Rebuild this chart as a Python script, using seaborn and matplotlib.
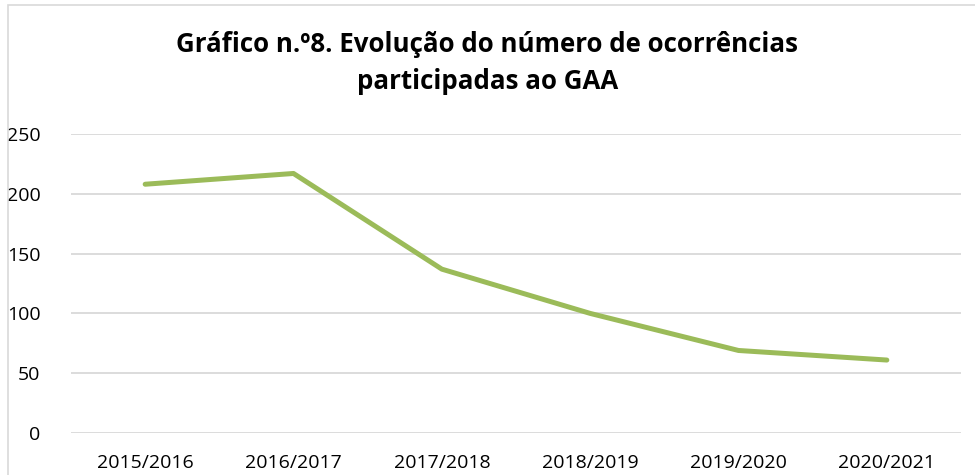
"""Evolução do número de ocorrências participadas ao GAA."""

import matplotlib.pyplot as plt
import pandas as pd
import seaborn as sns
from matplotlib.patches import Rectangle

anos = ["2015/2016", "2016/2017", "2017/2018", "2018/2019", "2019/2020", "2020/2021"]
ocorrencias = [208, 217, 137, 100, 69, 61]
y_ticks = [0, 50, 100, 150, 200, 250]

titulo = "Gráfico n.º8. Evolução do número de ocorrências\nparticipadas ao GAA"

data = pd.DataFrame({"Ano": anos, "Ocorrencias": ocorrencias})

sns.set_theme(style="white")
plt.rcParams["font.family"] = ["Open Sans", "DejaVu Sans"]
plt.rcParams["text.color"] = "black"

fig = plt.figure(figsize=(9.75, 4.75), dpi=100)
ax = fig.add_axes([71 / 975, 1 - 433 / 475, (961 - 71) / 975, (433 - 134) / 475])

sns.lineplot(data=data, x="Ano", y="Ocorrencias", color="#9BBB59",
             linewidth=3.6, solid_capstyle="round", ax=ax)

ax.set_xlim(-0.5, len(anos) - 0.5)
ax.set_ylim(0, 250)
ax.set_yticks(y_ticks)
ax.grid(axis="y", color="#d9d9d9", linewidth=1.3)
ax.set_axisbelow(True)
for s in ax.spines.values():
    s.set_visible(False)
ax.tick_params(axis="both", length=0, labelsize=14, labelcolor="black")
ax.tick_params(axis="y", pad=22)
ax.tick_params(axis="x", pad=15)
ax.set_xlabel("")
ax.set_ylabel("")

fig.text(0.5, 1 - 63 / 475, titulo, ha="center", va="center", color="black",
         fontsize=18.6, fontweight="bold", linespacing=1.45)

# moldura do gráfico
fig.patches.append(Rectangle((8 / 975, -0.01), 1.02, 1.0, transform=fig.transFigure,
                             fill=False, edgecolor="#d9d9d9", linewidth=1.2))

fig.savefig("out.png", dpi=100)
